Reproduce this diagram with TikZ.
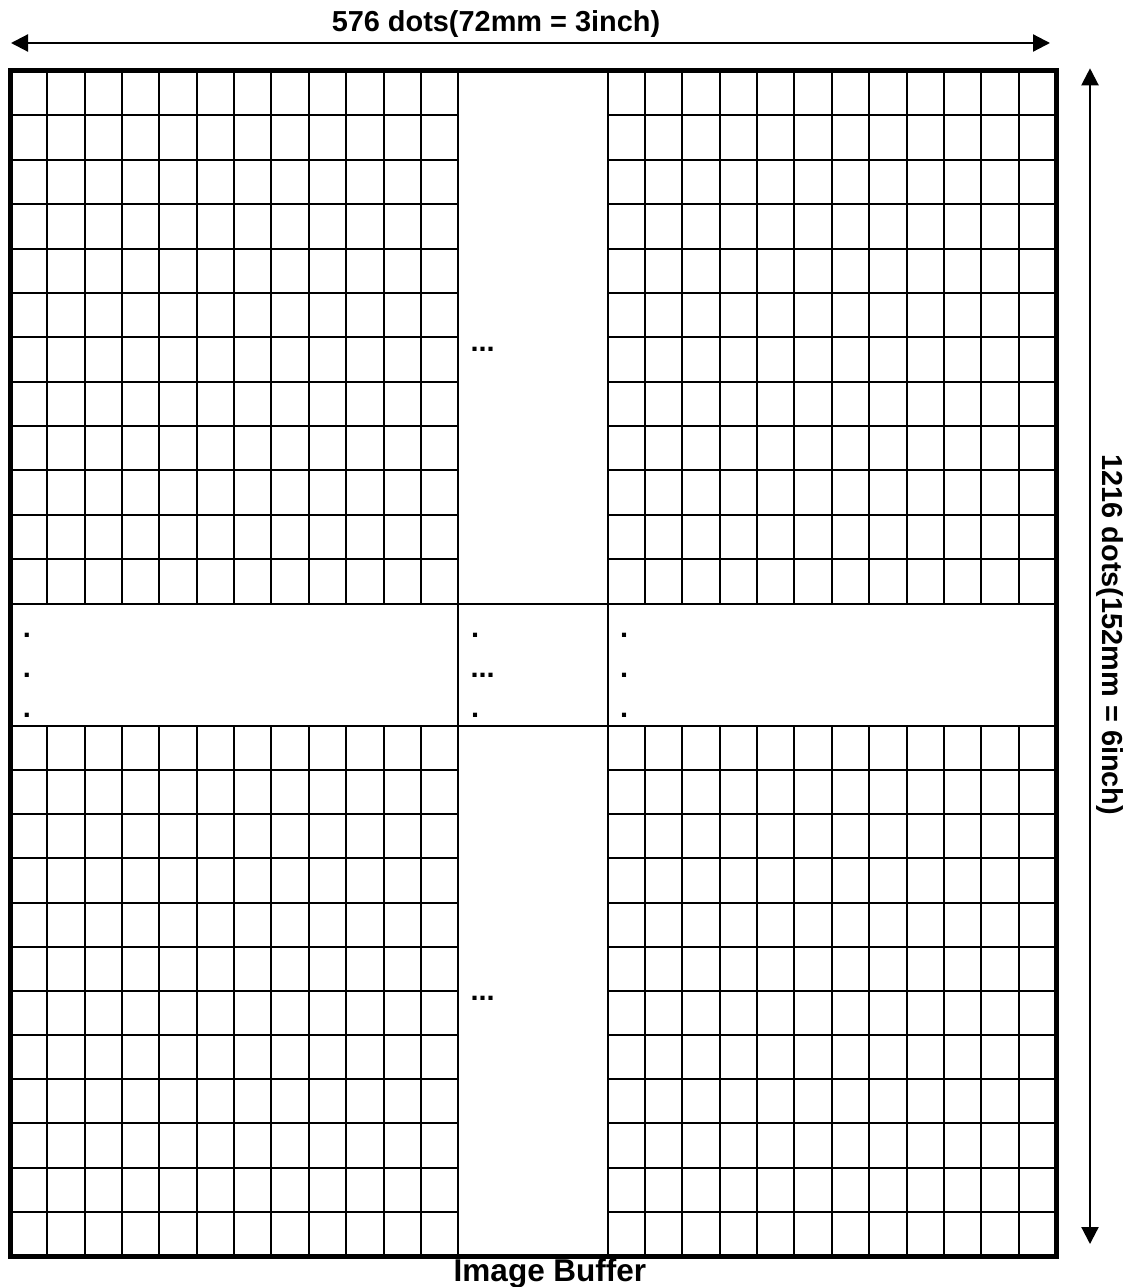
\documentclass[tikz,border=0pt]{standalone}
\usepackage{fontspec}
\setmainfont{Liberation Sans}
\usetikzlibrary{arrows.meta}
\begin{document}
\begin{tikzpicture}[
  x=1pt, y=-1pt,
  cell/.style={draw, line width=2pt},
  frame/.style={draw, line width=5pt},
  dim/.style={draw, line width=2.2pt, {Triangle[length=17pt,width=17pt]}-{Triangle[length=17pt,width=17pt]}},
  every node/.style={font=\fontsize{28.9}{34}\selectfont\bfseries, inner sep=0pt}
]
\useasboundingbox (0,0) rectangle (1136,1287);
\pgfmathsetmacro{\cw}{1046/28}
\pgfmathsetmacro{\rh}{532.5/12}
\pgfmathsetmacro{\rb}{530/12}
% vertical grid lines
\foreach \k in {1,...,11} {
  \pgfmathsetmacro{\xl}{round(10+\k*\cw)}
  \pgfmathsetmacro{\xr}{round(10+(16+\k)*\cw)}
  \draw[cell] (\xl,71) -- (\xl,604);
  \draw[cell] (\xl,726) -- (\xl,1256);
  \draw[cell] (\xr,71) -- (\xr,604);
  \draw[cell] (\xr,726) -- (\xr,1256);
}
\draw[cell] (458,71) -- (458,1256);
\draw[cell] (608,71) -- (608,1256);
% horizontal grid lines
\foreach \j in {1,...,11} {
  \pgfmathsetmacro{\yt}{round(71+\j*\rh)}
  \pgfmathsetmacro{\yb}{round(726+\j*\rb)}
  \draw[cell] (10,\yt) -- (458,\yt);
  \draw[cell] (608,\yt) -- (1056,\yt);
  \draw[cell] (10,\yb) -- (458,\yb);
  \draw[cell] (608,\yb) -- (1056,\yb);
}
\draw[cell] (10,604) -- (1056,604);
\draw[cell] (10,726) -- (1056,726);
\draw[frame] (10,71) rectangle (1056,1256);
% ellipsis marks
\node[anchor=base west] (topdots) at (470.3,351) {...};
\node[anchor=base west] (botdots) at (470.3,1000) {...};
\foreach \y [count=\i] in {637,677,717} {
  \node[anchor=base west] (lft\i) at (22.7,\y) {.};
  \node[anchor=base west] (rgt\i) at (620,\y) {.};
}
\node[anchor=base west] (mid1) at (470.8,637) {.};
\node[anchor=base west] (mid2) at (470.3,677) {...};
\node[anchor=base west] (mid3) at (470.8,717) {.};
% dimensions
\coordinate (wl) at (11,43);
\coordinate (wr) at (1050,43);
\coordinate (ht) at (1090,68.3);
\coordinate (hb) at (1090,1244);
\draw[dim] (wl) -- (wr);
\draw[dim] (ht) -- (hb);
\node[anchor=base] (width) at (496,31.7) {576 dots(72mm = 3inch)};
\node[anchor=base, rotate=-90] (height) at (1102,635) {1216 dots(152mm = 6inch)};
\node[anchor=base, font=\fontsize{31.5}{36}\selectfont\bfseries] (title) at (550,1281) {Image Buffer};
\end{tikzpicture}
\end{document}
